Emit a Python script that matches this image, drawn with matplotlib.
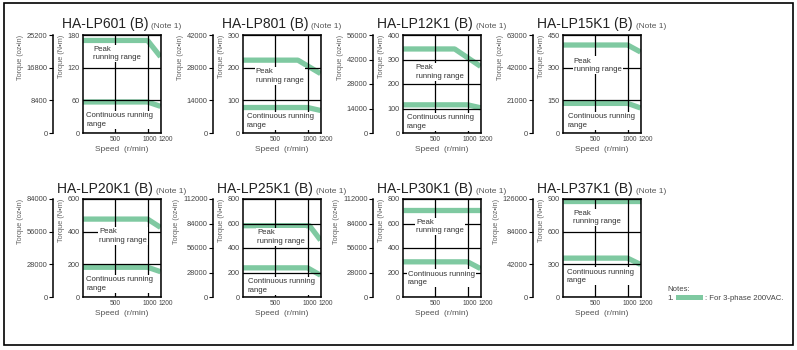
import matplotlib
matplotlib.use("Agg")
import matplotlib.pyplot as plt
from matplotlib import font_manager
from matplotlib.patches import Rectangle
from matplotlib.transforms import ScaledTranslation

W, H = 797, 350
GREEN = "#7fc9a1"
OZ_PER_NM = 140

models = ["HA-LP601 (B)", "HA-LP801 (B)", "HA-LP12K1 (B)", "HA-LP15K1 (B)",
          "HA-LP20K1 (B)", "HA-LP25K1 (B)", "HA-LP30K1 (B)", "HA-LP37K1 (B)"]
torque_ticks = [[0, 60, 120, 180], [0, 100, 200, 300], [0, 100, 200, 300, 400],
                [0, 150, 300, 450], [0, 200, 400, 600], [0, 200, 400, 600, 800],
                [0, 200, 400, 600, 800], [0, 300, 600, 900]]
speed_ticks = [500, 1000, 1200]
speed_labels = ["500", "1000", "1200"]

peak_speed = [[0, 1000, 1200], [0, 850, 1200], [0, 800, 1200], [0, 1000, 1200],
              [0, 1000, 1200], [0, 1030, 1200], [0, 1200], [0, 1200]]
peak_torque = [[170, 170, 140], [223, 223, 182], [343, 343, 272], [404, 404, 372],
               [477, 477, 426], [582, 582, 464], [710, 710], [884, 884]]
cont_speed = [[0, 1000, 1200], [0, 1000, 1200], [0, 1000, 1200], [0, 1000, 1200],
              [0, 1000, 1200], [0, 1000, 1200], [0, 1000, 1200], [0, 1000, 1200]]
cont_torque = [[57, 57, 49], [78, 78, 69], [115, 115, 103], [136, 136, 115],
               [182, 182, 155], [238, 238, 178], [287, 287, 232], [357, 357, 299]]

# label placement (axes fraction, top-left of text)
peak_text_pos = [(0.13, 0.89), (0.165, 0.66), (0.165, 0.70), (0.14, 0.77),
                 (0.21, 0.70), (0.18, 0.69), (0.17, 0.80), (0.13, 0.89)]
cont_text_pos = [(0.04, 0.21), (0.05, 0.20), (0.05, 0.19), (0.06, 0.20),
                 (0.04, 0.21), (0.06, 0.19), (0.06, 0.27), (0.05, 0.29)]

plt.rcParams["font.family"] = ["Liberation Sans", "DejaVu Sans"]
names = {f.name for f in font_manager.fontManager.ttflist}
NARROW = "Liberation Sans Narrow" if "Liberation Sans Narrow" in names else "Liberation Sans"

fig = plt.figure(figsize=(W / 100, H / 100), dpi=100)
renderer = fig.canvas.get_renderer()

fig.add_artist(Rectangle((4 / W, 1 - 345 / H), 789 / W, 342 / H,
                         transform=fig.transFigure, fill=False,
                         ec="black", lw=1.2))

for i in range(8):
    row, col = divmod(i, 4)
    left = 83 + 160 * col
    top = 35 if row == 0 else 199
    bw, bh = 77.5, 98
    ax = fig.add_axes([left / W, 1 - (top + bh) / H, bw / W, bh / H])

    ax.plot(peak_speed[i], peak_torque[i], color=GREEN, lw=3.8,
            solid_capstyle="butt", zorder=2)
    ax.plot(cont_speed[i], cont_torque[i], color=GREEN, lw=3.8,
            solid_capstyle="butt", zorder=2)

    ax.set_xlim(0, 1200)
    ax.set_ylim(0, torque_ticks[i][-1])
    ax.set_yticks(torque_ticks[i])
    ax.set_xticks(speed_ticks)
    ax.set_xticklabels(speed_labels, fontfamily=NARROW, fontsize=4.8)
    ax.set_yticklabels([str(t) for t in torque_ticks[i]], fontfamily=NARROW,
                       fontsize=5.2)
    ax.tick_params(length=0, labelcolor="#444", pad=2.5)
    ax.grid(color="black", lw=0.9)
    ax.set_axisbelow(False)
    for s in ax.spines.values():
        s.set_linewidth(1.1)
    xl = ax.get_xticklabels()
    xl[1].set_ha("right")
    xl[2].set_ha("left")
    for lab, dx in zip(xl, [0, 6.8, -1.2]):
        lab.set_transform(lab.get_transform() +
                          ScaledTranslation(dx / 72, 0, fig.dpi_scale_trans))

    ax.set_xlabel("Speed  (r/min)", fontsize=6, color="#555", labelpad=1.5)
    ax.set_ylabel("Torque (N•m)", fontsize=5.3, color="#666", loc="top",
                  labelpad=1.5)

    sec = ax.secondary_yaxis(-30 / bw, functions=(lambda v: v * OZ_PER_NM,
                                                   lambda v: v / OZ_PER_NM))
    sec.set_yticks([t * OZ_PER_NM for t in torque_ticks[i]])
    sec.set_yticklabels([str(t * OZ_PER_NM) for t in torque_ticks[i]],
                        fontfamily=NARROW)
    sec.tick_params(length=3, width=0.8, labelsize=5.4, labelcolor="#444", pad=1)
    sec.spines["left"].set_linewidth(1.1)
    sec.set_ylabel("Torque (oz•in)", fontsize=5.3, color="#666", loc="top",
                   labelpad=2)

    px, py = peak_text_pos[i]
    ax.text(px, py, "Peak\nrunning range", transform=ax.transAxes,
            fontsize=5.6, color="#333", va="top", ha="left", linespacing=1.25,
            bbox=dict(fc="white", ec="none", pad=0.8), zorder=4)
    cx, cy = cont_text_pos[i]
    ax.text(cx, cy, "Continuous running\nrange", transform=ax.transAxes,
            fontsize=5.6, color="#333", va="top", ha="left", linespacing=1.25,
            bbox=dict(fc="white", ec="none", pad=0.8), zorder=4)

    # title centred over the plot box
    base = 28 if row == 0 else 192.5
    t1 = fig.text(0, 1 - base / H, models[i], fontsize=10, color="#222",
                  va="baseline")
    t2 = fig.text(0, 1 - base / H, "(Note 1)", fontsize=6, color="#555",
                  va="baseline")
    w1 = t1.get_window_extent(renderer).width
    w2 = t2.get_window_extent(renderer).width
    x0 = left + bw / 2 - (w1 + 3 + w2) / 2
    t1.set_x(x0 / W)
    t2.set_x((x0 + w1 + 3) / W)

# notes
fig.text(667 / W, 1 - 291 / H, "Notes:", fontsize=5.6, color="#444")
fig.text(667 / W, 1 - 300 / H, "1.", fontsize=5.6, color="#444")
fig.add_artist(Rectangle((676 / W, 1 - 299.5 / H), 27 / W, 5 / H,
                         transform=fig.transFigure, fc=GREEN, ec="none"))
fig.text(705 / W, 1 - 300 / H, ": For 3-phase 200VAC.", fontsize=5.6,
         color="#444")

fig.savefig("out.png", dpi=100)
